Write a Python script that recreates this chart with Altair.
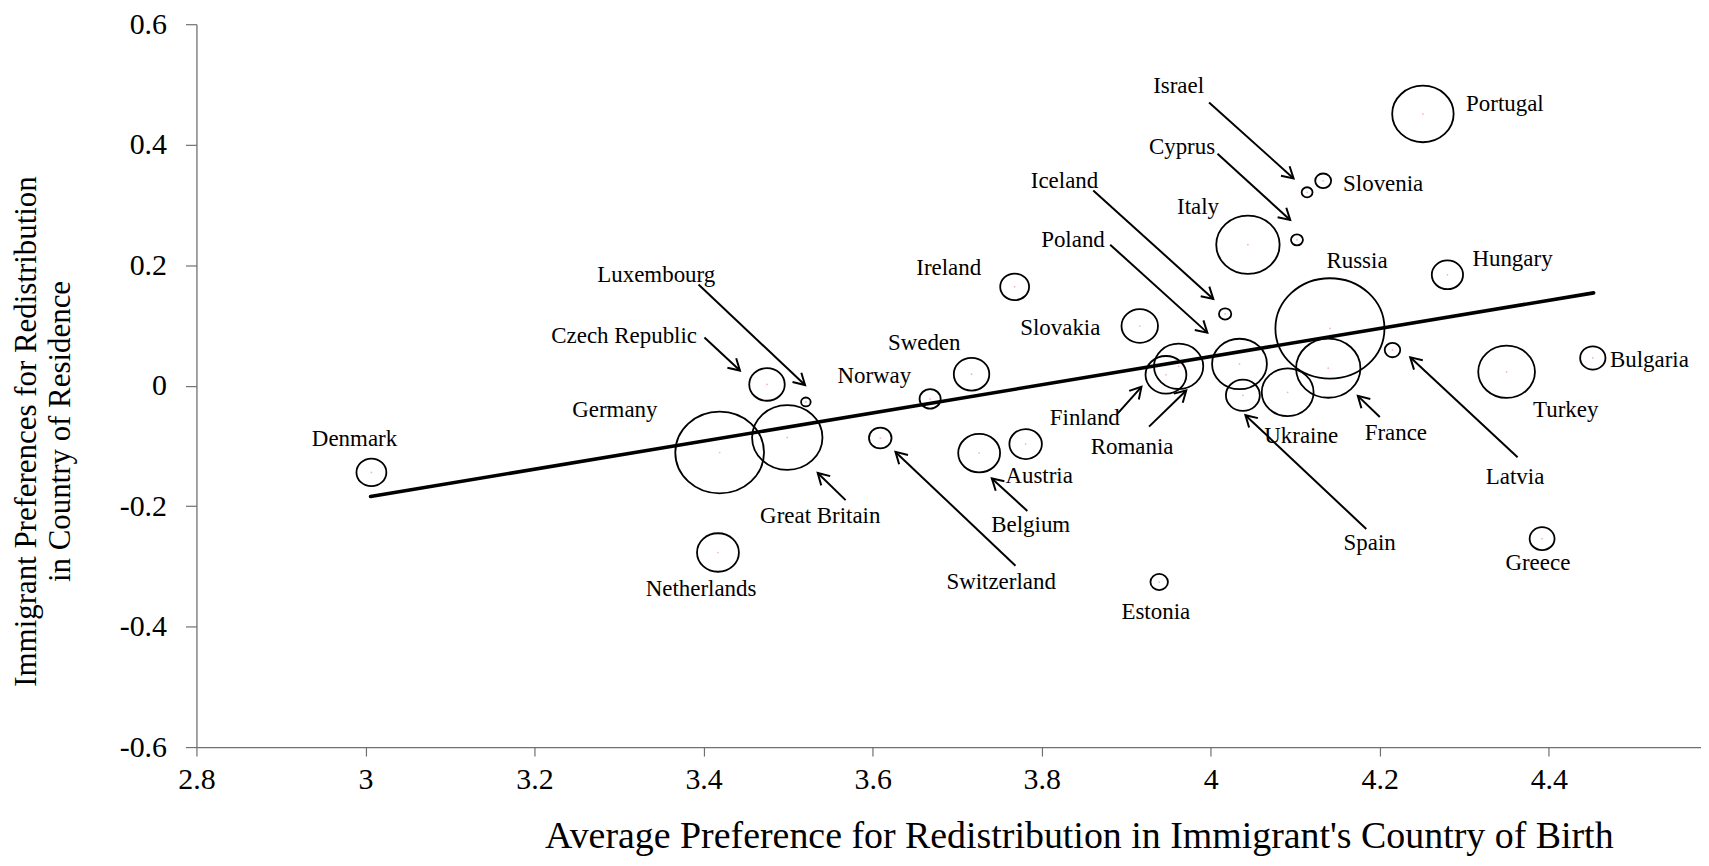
import math
import altair as alt
import pandas as pd

# ---------------- data ----------------
countries = ["Denmark", "Germany", "Netherlands", "Czech Republic", "Luxembourg",
             "Great Britain", "Switzerland", "Norway", "Sweden", "Ireland",
             "Belgium", "Austria", "Slovakia", "Finland", "Romania", "Estonia",
             "Iceland", "Poland", "Spain", "Italy", "Ukraine", "Cyprus", "Israel",
             "Slovenia", "Russia", "France", "Latvia", "Portugal", "Hungary",
             "Turkey", "Greece", "Bulgaria"]
birth_pref = [3.007, 3.419, 3.417, 3.475, 3.521, 3.499, 3.609, 3.668, 3.717, 3.768,
              3.726, 3.781, 3.916, 3.947, 3.962, 3.939, 4.017, 4.034, 4.038, 4.044,
              4.091, 4.102, 4.114, 4.133, 4.141, 4.139, 4.215, 4.251, 4.280, 4.350,
              4.392, 4.452]
resid_pref = [-0.144, -0.111, -0.277, 0.002, -0.027, -0.086, -0.087, -0.022, 0.019,
              0.164, -0.112, -0.097, 0.099, 0.018, 0.032, -0.326, 0.119, 0.036,
              -0.016, 0.234, -0.011, 0.242, 0.321, 0.340, 0.095, 0.029, 0.059,
              0.451, 0.184, 0.023, -0.254, 0.046]
# relative bubble weight (proportional to bubble area)
weight = [2.25, 19.8, 4.41, 3.17, 0.23, 12.46, 1.28, 1.12, 3.17, 2.10, 4.41, 2.66,
          3.35, 4.20, 6.10, 0.77, 0.38, 7.56, 2.89, 10.1, 6.76, 0.36, 0.30, 0.64,
          29.9, 10.4, 0.61, 9.5, 2.46, 8.1, 1.56, 1.61]
label_x = [2.987, 3.295, 3.397, 3.306, 3.344, 3.538, 3.752, 3.602, 3.661, 3.690,
           3.787, 3.797, 3.822, 3.851, 3.907, 3.935, 3.827, 3.837, 4.188, 3.985,
           4.107, 3.966, 3.962, 4.204, 4.173, 4.219, 4.360, 4.348, 4.357, 4.420,
           4.387, 4.519]
label_y = [-0.088, -0.041, -0.337, 0.083, 0.184, -0.217, -0.326, 0.016, 0.071, 0.195,
           -0.232, -0.150, 0.095, -0.054, -0.102, -0.375, 0.340, 0.242, -0.261, 0.297,
           -0.083, 0.396, 0.497, 0.334, 0.207, -0.078, -0.151, 0.467, 0.210, -0.040,
           -0.295, 0.042]

arrow_country = ["Luxembourg", "Czech Republic", "Iceland", "Poland", "Israel", "Cyprus",
                 "Great Britain", "Switzerland", "Belgium", "Finland", "Romania",
                 "Spain", "France", "Latvia"]
arrow_x_from = [3.394, 3.401, 3.861, 3.881, 3.998, 4.008, 3.568, 3.769, 3.783, 3.890,
                3.927, 4.184, 4.200, 4.363]
arrow_y_from = [0.168, 0.080, 0.324, 0.234, 0.470, 0.385, -0.190, -0.299, -0.208,
                -0.046, -0.068, -0.238, -0.052, -0.119]
arrow_x_to = [3.520, 3.443, 4.003, 3.996, 4.098, 4.094, 3.535, 3.627, 3.741, 3.918,
              3.971, 4.041, 4.174, 4.236]
arrow_y_to = [0.001, 0.025, 0.144, 0.088, 0.344, 0.275, -0.145, -0.110, -0.154,
              -0.002, -0.008, -0.049, -0.017, 0.047]

reg_x = [3.006, 4.453]
reg_y = [-0.184, 0.154]

x_ticks = [2.8, 3.0, 3.2, 3.4, 3.6, 3.8, 4.0, 4.2, 4.4]
y_ticks = [-0.6, -0.4, -0.2, 0.0, 0.2, 0.4, 0.6]

# ---------------- layout ----------------
W, H = 1509, 725
X_DOM = [2.8, 4.58]
Y_DOM = [-0.6, 0.6]
FONT = "Liberation Serif"

pts = pd.DataFrame({"country": countries, "bx": birth_pref, "ry": resid_pref,
                    "w": weight})
labels = pd.DataFrame({"country": countries, "lx": label_x, "ly": label_y})
reg = pd.DataFrame({"rx": reg_x, "rr": reg_y})

px_x = W / (X_DOM[1] - X_DOM[0])
px_y = H / (Y_DOM[1] - Y_DOM[0])
angles = []
for xs, ys, xt, yt in zip(arrow_x_from, arrow_y_from, arrow_x_to, arrow_y_to):
    dx = (xt - xs) * px_x
    dy = -(yt - ys) * px_y
    angles.append(math.degrees(math.atan2(dy, dx)) % 360)
arrows = pd.DataFrame({"country": arrow_country, "sx": arrow_x_from, "sy": arrow_y_from,
                       "tx": arrow_x_to, "ty": arrow_y_to, "ang": angles})

xscale = alt.Scale(domain=X_DOM, nice=False, zero=False)
yscale = alt.Scale(domain=Y_DOM, nice=False, zero=False)
LBL = "datum.value == 0 ? '0' : toString(round(datum.value * 10) / 10)"
xaxis = alt.Axis(values=x_ticks, labelExpr=LBL, grid=False, tickSize=9,
                 labelPadding=9, labelFontSize=30, labelFont=FONT, labelColor="black",
                 domainColor="#707070", tickColor="#707070", domainWidth=1.3, tickWidth=1.2,
                 titleFont=FONT, titleFontSize=38, titleFontWeight="normal",
                 titleColor="black", titleX=885, titleY=101, titleAlign="center",
                 titleBaseline="alphabetic", labelFlush=False, labelOverlap=False)
yaxis = alt.Axis(values=y_ticks, labelExpr=LBL, grid=False, tickSize=11,
                 labelPadding=19, labelFontSize=30, labelFont=FONT, labelColor="black",
                 domainColor="#707070", tickColor="#707070", domainWidth=1.3, tickWidth=1.2,
                 titleFont=FONT, titleFontSize=31, titleFontWeight="normal",
                 titleColor="black", titleAngle=270, titleX=-154, titleY=408,
                 titleAlign="center", titleBaseline="bottom", titleLineHeight=34,
                 labelFlush=False, labelOverlap=False)
XT = "Average Preference for Redistribution in Immigrant's Country of Birth"
YT = ["Immigrant Preferences for Redistribution", "in Country of Residence"]


def X(f):
    return alt.X(f, type="quantitative", scale=xscale, axis=xaxis, title=XT)


def Y(f):
    return alt.Y(f, type="quantitative", scale=yscale, axis=yaxis, title=YT)


k = 0.5523
ry = 0.92
ELLIPSE = (f"M1,0C1,{k*ry:.4f} {k:.4f},{ry} 0,{ry}C-{k:.4f},{ry} -1,{k*ry:.4f} -1,0"
           f"C-1,-{k*ry:.4f} -{k:.4f},-{ry} 0,-{ry}C{k:.4f},-{ry} 1,-{k*ry:.4f} 1,0Z")
HEAD = "M-1,-0.577L0,0L-1,0.577"

line = alt.Chart(reg).mark_line(color="black", strokeWidth=3.6, strokeCap="round").encode(
    x=X("rx"), y=Y("rr"))

bubbles = alt.Chart(pts).mark_point(shape=ELLIPSE, filled=False, stroke="black",
                                    strokeWidth=1.8, opacity=1).encode(
    x=X("bx"), y=Y("ry"),
    size=alt.Size("w:Q", scale=alt.Scale(type="linear", domain=[0, 30], range=[0, 12000]),
                  legend=None))

dots = alt.Chart(pts).mark_circle(size=3, color="#f2a0a0", opacity=0.8).encode(
    x=X("bx"), y=Y("ry"))

shafts = alt.Chart(arrows).mark_rule(color="black", strokeWidth=2).encode(
    x=X("sx"), y=Y("sy"), x2="tx", y2="ty")

heads = alt.Chart(arrows).mark_point(shape=HEAD, filled=False, stroke="black",
                                     strokeWidth=2, size=500, opacity=1,
                                     strokeJoin="miter").encode(
    x=X("tx"), y=Y("ty"), angle=alt.Angle("ang:Q", scale=None))

texts = alt.Chart(labels).mark_text(font=FONT, fontSize=23, align="center",
                                    baseline="middle", color="black").encode(
    x=X("lx"), y=Y("ly"), text="country:N")

chart = alt.layer(line, bubbles, dots, shafts, heads, texts).properties(
    width=W, height=H,
    autosize=alt.AutoSizeParams(type="none"),
    padding={"left": 189, "top": 15, "right": 0, "bottom": 110},
    background="white",
).configure_view(stroke=None)

chart.save("out.html", embed_options={"renderer": "svg", "actions": False})
